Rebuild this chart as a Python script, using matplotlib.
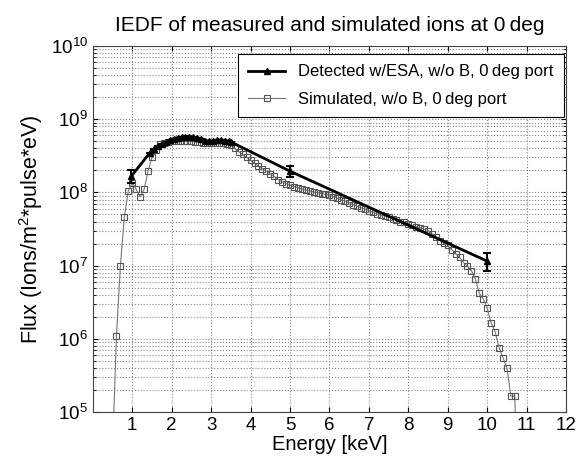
import matplotlib
matplotlib.use("Agg")
import matplotlib.pyplot as plt
from matplotlib.lines import Line2D
import numpy as np

plt.rcParams['font.family'] = ['Liberation Sans', 'DejaVu Sans']
plt.rcParams['mathtext.fontset'] = 'custom'
plt.rcParams['mathtext.rm'] = 'Liberation Sans'

# simulated ions, w/o B, 0 deg port
sim_E = [0.5, 0.6, 0.7, 0.8, 0.9, 1.0, 1.1, 1.2, 1.3, 1.4,
         1.5, 1.6, 1.7, 1.8, 1.9, 2.0, 2.1, 2.2, 2.3, 2.4,
         2.5, 2.6, 2.7, 2.8, 2.9, 3.0, 3.1, 3.2, 3.3, 3.4,
         3.5, 3.6, 3.7, 3.8, 3.9, 4.0, 4.1, 4.2, 4.3, 4.4,
         4.5, 4.6, 4.7, 4.8, 4.9, 5.0, 5.1, 5.2, 5.3, 5.4,
         5.5, 5.6, 5.7, 5.8, 5.9, 6.0, 6.1, 6.2, 6.3, 6.4,
         6.5, 6.6, 6.7, 6.8, 6.9, 7.0, 7.1, 7.2, 7.3, 7.4,
         7.5, 7.6, 7.7, 7.8, 7.9, 8.0, 8.1, 8.2, 8.3, 8.4,
         8.5, 8.6, 8.7, 8.8, 8.9, 9.0, 9.1, 9.2, 9.3, 9.4,
         9.5, 9.6, 9.7, 9.8, 9.9, 10.0, 10.1, 10.2, 10.3, 10.4,
         10.5, 10.6, 10.7, 10.8]
sim_flux = [3e4, 1.1e6, 1.0e7, 4.6e7, 1.05e8, 1.35e8, 1.1e8, 8.7e7, 1.1e8, 1.95e8,
            3.0e8, 3.8e8, 4.6e8, 4.8e8, 4.9e8, 5.0e8, 5.0e8, 5.1e8, 5.1e8, 5.0e8,
            5.0e8, 4.9e8, 4.9e8, 4.8e8, 4.8e8, 4.8e8, 4.7e8, 4.7e8, 4.7e8, 4.6e8,
            4.5e8, 4.0e8, 3.6e8, 3.3e8, 3.0e8, 2.75e8, 2.5e8, 2.3e8, 2.1e8, 1.95e8,
            1.8e8, 1.65e8, 1.5e8, 1.4e8, 1.32e8, 1.25e8, 1.2e8, 1.16e8, 1.12e8, 1.08e8,
            1.05e8, 1.02e8, 9.9e7, 9.6e7, 9.4e7, 9.2e7, 8.7e7, 8.3e7, 7.9e7, 7.6e7,
            7.2e7, 6.8e7, 6.5e7, 6.2e7, 5.9e7, 5.6e7, 5.4e7, 5.1e7, 4.9e7, 4.8e7,
            4.6e7, 4.4e7, 4.2e7, 4.0e7, 3.9e7, 3.7e7, 3.55e7, 3.4e7, 3.3e7, 3.15e7,
            3.0e7, 2.7e7, 2.45e7, 2.2e7, 2.05e7, 1.9e7, 1.65e7, 1.45e7, 1.3e7, 1.1e7,
            9.8e6, 8.5e6, 6.6e6, 4.2e6, 3.5e6, 2.6e6, 1.65e6, 1.25e6, 7.6e5, 5.5e5,
            4.0e5, 1.65e5, 1.65e5, 1e3]

# detected w/ESA, w/o B, 0 deg port
det_E = [0.97, 1.45, 1.55, 1.65, 1.75, 1.85, 1.95, 2.05, 2.15, 2.25,
         2.35, 2.45, 2.55, 2.65, 2.75, 2.85, 2.95, 3.05, 3.15, 3.25,
         3.35, 3.45, 3.5, 5.0, 10.0]
det_flux = [1.65e8, 3.5e8, 3.9e8, 4.3e8, 4.6e8, 4.9e8, 5.2e8, 5.4e8, 5.6e8, 5.7e8,
            5.8e8, 5.8e8, 5.7e8, 5.5e8, 5.3e8, 5.1e8, 5.0e8, 5.1e8, 5.2e8, 5.2e8,
            5.1e8, 5.0e8, 4.9e8, 1.95e8, 1.15e7]
det_lo = [1.35e8] + det_flux[1:23] + [1.6e8, 8.5e6]
det_hi = [2.0e8] + det_flux[1:23] + [2.3e8, 1.5e7]

det_flux = np.array(det_flux)
yerr = [det_flux - np.array(det_lo), np.array(det_hi) - det_flux]

fig = plt.figure(figsize=(5.8, 4.65), dpi=100)
ax = fig.add_axes([0.160, 0.114, 0.816, 0.787])

ax.errorbar(det_E, det_flux, yerr=yerr, color='black', lw=2, marker='^',
            markersize=5, capsize=3, elinewidth=1.5, capthick=1.5, zorder=3)
ax.plot(sim_E, sim_flux, color='#777777', lw=0.8, marker='s', markersize=5,
        mfc='none', mec='#555555', mew=0.8, zorder=2)

ax.set_yscale('log')
ax.set_xlim(0, 12)
ax.set_ylim(1e5, 1e10)
ax.set_xticks(range(1, 13))
ax.grid(True, which='major', ls=':', color='#888888', lw=0.8)
ax.grid(True, which='minor', axis='y', ls=':', color='#888888', lw=0.8)
ax.tick_params(which='both', direction='in', top=True, right=True, labelsize=13.5)
for s in ax.spines.values():
    s.set_color('#444444')

ax.set_title('IEDF of measured and simulated ions at 0\u2009deg', fontsize=15, pad=11)
ax.set_xlabel('Energy [keV]', fontsize=14.5, labelpad=1)
ax.set_ylabel('Flux (Ions/m$^2$*pulse*eV)', fontsize=15.5, labelpad=4)

handles = [Line2D([], [], color='black', lw=2, marker='^', markersize=5),
           Line2D([], [], color='#777777', lw=0.8, marker='s', markersize=5,
                  mfc='none', mec='#555555', mew=0.8)]
labels = ['Detected w/ESA, w/o B, 0\u2009deg port', 'Simulated, w/o B, 0\u2009deg port']
leg = ax.legend(handles, labels, loc='upper right', bbox_to_anchor=(0.995, 0.977),
                borderaxespad=0, fancybox=False, framealpha=1, edgecolor='black',
                fontsize=12, handlelength=2.2, labelspacing=0.75, borderpad=0.6)
leg.get_frame().set_linewidth(0.8)

fig.savefig('out.png', dpi=100)
